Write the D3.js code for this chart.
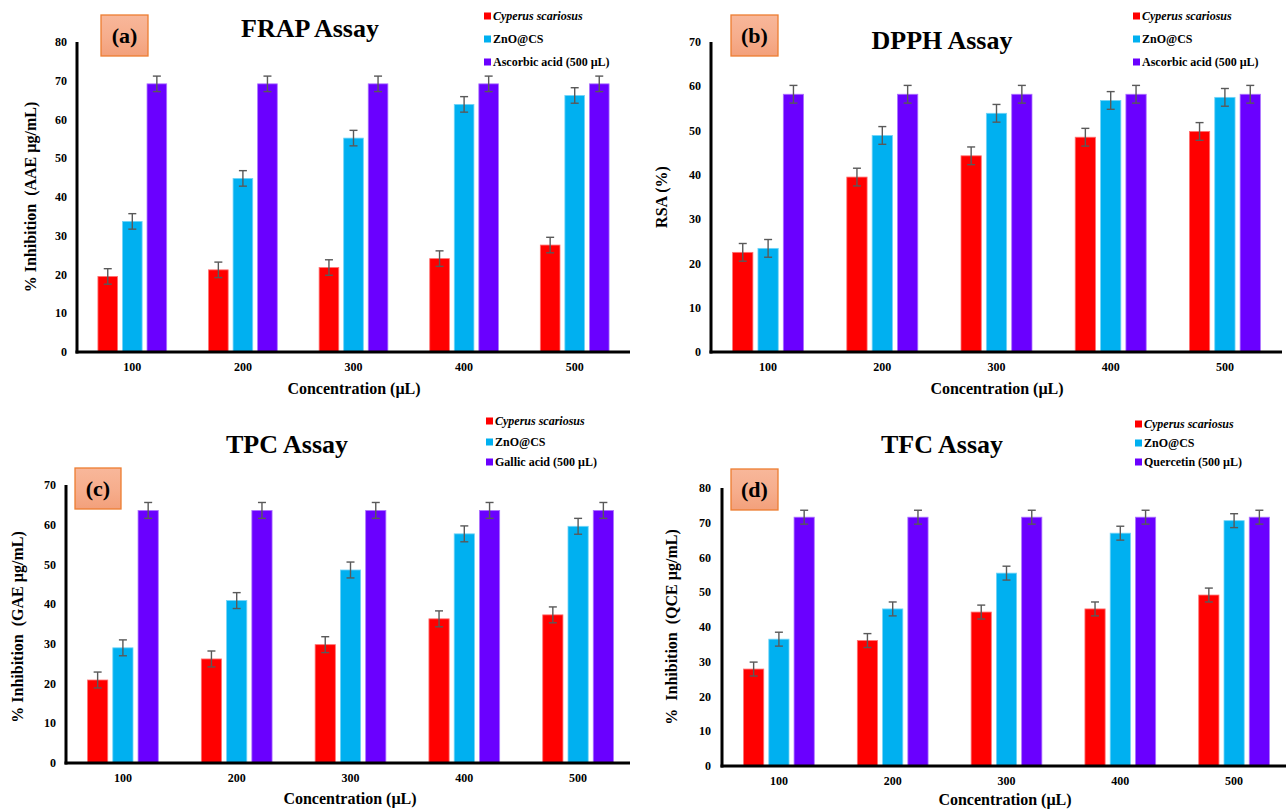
<!DOCTYPE html>
<html>
<head>
<meta charset="utf-8">
<script src="https://cdn.jsdelivr.net/npm/d3@7"></script>
<style>
  html, body { margin: 0; padding: 0; background: #ffffff; }
  svg { display: block; }
  text { font-family: "Liberation Serif", "Times New Roman", serif; font-weight: bold; fill: #000; }
</style>
</head>
<body>
<svg id="chart" width="1286" height="809"></svg>
<script>
// ---------- data ----------
const categories = ["100", "200", "300", "400", "500"];

const frapCyperus  = [19.5, 21.2, 21.8, 24.1, 27.6];
const frapZnO      = [33.7, 44.8, 55.2, 63.9, 66.2];
const frapAscorbic = [69.2, 69.2, 69.2, 69.2, 69.2];
const frapErr      = [2, 2, 2, 2, 2];

const dpphCyperus  = [22.5, 39.5, 44.3, 48.5, 49.8];
const dpphZnO      = [23.4, 48.9, 53.9, 56.8, 57.5];
const dpphAscorbic = [58.2, 58.2, 58.2, 58.2, 58.2];
const dpphErr      = [2, 2, 2, 2, 2];

const tpcCyperus = [20.9, 26.2, 29.8, 36.3, 37.3];
const tpcZnO     = [29.0, 40.9, 48.6, 57.7, 59.6];
const tpcGallic  = [63.6, 63.6, 63.6, 63.6, 63.6];
const tpcErr     = [2, 2, 2, 2, 2];

const tfcCyperus   = [27.9, 36.1, 44.3, 45.2, 49.2];
const tfcZnO       = [36.5, 45.2, 55.5, 67.0, 70.6];
const tfcQuercetin = [71.6, 71.6, 71.6, 71.6, 71.6];
const tfcErr       = [2, 2, 2, 2, 2];

const yTicksA = [0, 10, 20, 30, 40, 50, 60, 70, 80];
const yTicksB = [0, 10, 20, 30, 40, 50, 60, 70];
const yTicksC = [0, 10, 20, 30, 40, 50, 60, 70];
const yTicksD = [0, 10, 20, 30, 40, 50, 60, 70, 80];

const seriesColors = ["#ff0000", "#00b0f0", "#6a00ff"];

// ---------- panels ----------
const panels = [
  { tag: "(a)", title: "FRAP Assay", yLabel: "% Inhibition\u00a0\u00a0(AAE µg/mL)", xLabel: "Concentration (µL)",
    names: ["Cyperus scariosus", "ZnO@CS", "Ascorbic acid (500 µL)"],
    series: [frapCyperus, frapZnO, frapAscorbic], err: frapErr, yTicks: yTicksA,
    g: { x0: 77, x1: 630, lineEnd: 630, yTop: 42, yBase: 352, titleX: 310, titleY: 37,
         box: [101, 15, 47, 41], legX: 484, legY: [16, 39, 62], yLabX: 30, yLabY: 197,
         tickR: 67, xTickY: 367, xTitleX: 354, xTitleY: 388 } },
  { tag: "(b)", title: "DPPH Assay", yLabel: "RSA (%)", xLabel: "Concentration (µL)",
    names: ["Cyperus scariosus", "ZnO@CS", "Ascorbic acid (500 µL)"],
    series: [dpphCyperus, dpphZnO, dpphAscorbic], err: dpphErr, yTicks: yTicksB,
    g: { x0: 711, x1: 1282, lineEnd: 1282, yTop: 42, yBase: 352, titleX: 942, titleY: 49,
         box: [731, 15, 47, 41], legX: 1133, legY: [16, 39, 62], yLabX: 661, yLabY: 197,
         tickR: 701, xTickY: 367, xTitleX: 997, xTitleY: 388 } },
  { tag: "(c)", title: "TPC Assay", yLabel: "% Inhibition\u00a0\u00a0(GAE µg/mL)", xLabel: "Concentration (µL)",
    names: ["Cyperus scariosus", "ZnO@CS", "Gallic acid (500 µL)"],
    series: [tpcCyperus, tpcZnO, tpcGallic], err: tpcErr, yTicks: yTicksC,
    g: { x0: 66, x1: 635, lineEnd: 630, yTop: 485, yBase: 763, titleX: 287, titleY: 453,
         box: [75, 468, 46, 41], legX: 486, legY: [421, 442, 462], yLabX: 17, yLabY: 627,
         tickR: 56, xTickY: 778, xTitleX: 350, xTitleY: 798 } },
  { tag: "(d)", title: "TFC Assay", yLabel: "%\u00a0\u00a0Inhibition\u00a0\u00a0(QCE µg/mL)", xLabel: "Concentration (µL)",
    names: ["Cyperus scariosus", "ZnO@CS", "Quercetin (500 µL)"],
    series: [tfcCyperus, tfcZnO, tfcQuercetin], err: tfcErr, yTicks: yTicksD,
    g: { x0: 722, x1: 1291, lineEnd: 1286, yTop: 488, yBase: 766, titleX: 942, titleY: 453,
         box: [731, 469, 47, 41], legX: 1135, legY: [424, 443, 462], yLabX: 671, yLabY: 627,
         tickR: 711, xTickY: 781, xTitleX: 1005, xTitleY: 799 } }
];

const svg = d3.select("#chart");
const defs = svg.append("defs");
const grad = defs.append("linearGradient").attr("id", "boxGrad")
  .attr("x1", "0").attr("y1", "0").attr("x2", "0").attr("y2", "1");
grad.append("stop").attr("offset", "0%").attr("stop-color", "#f8b79a");
grad.append("stop").attr("offset", "55%").attr("stop-color", "#f6ad8c");
grad.append("stop").attr("offset", "100%").attr("stop-color", "#f3a07b");

panels.forEach(p => {
  const g = p.g;
  const root = svg.append("g");
  const ymax = d3.max(p.yTicks);
  const y = d3.scaleLinear().domain([0, ymax]).range([g.yBase, g.yTop]);
  const x0 = d3.scaleBand().domain(categories).range([g.x0, g.x1]).paddingInner(0).paddingOuter(0);
  const bw = x0.bandwidth();
  const pitch = bw * 0.222;
  const keys = [0, 1, 2];
  const x1 = d3.scaleBand().domain(keys)
    .range([bw / 2 - 1.5 * pitch, bw / 2 + 1.5 * pitch]).paddingInner(0.2).paddingOuter(0.1);

  // bars
  const rows = categories.map((c, i) => ({ cat: c, vals: keys.map(k => ({ k, v: p.series[k][i], e: p.err[i] })) }));
  const grp = root.selectAll("g.grp").data(rows).enter().append("g")
    .attr("transform", d => `translate(${x0(d.cat)},0)`);
  grp.selectAll("rect").data(d => d.vals).enter().append("rect")
    .attr("x", d => x1(d.k))
    .attr("y", d => y(d.v))
    .attr("width", x1.bandwidth())
    .attr("height", d => y(0) - y(d.v))
    .attr("fill", d => seriesColors[d.k])
    .attr("stroke", d => d3.interpolateRgb(seriesColors[d.k], "#ffffff")(0.45))
    .attr("stroke-width", 0.8);
  // error bars
  const eb = grp.selectAll("g.eb").data(d => d.vals).enter().append("g")
    .attr("stroke", "#595959").attr("stroke-width", 1.4);
  eb.append("line")
    .attr("x1", d => x1(d.k) + x1.bandwidth() / 2).attr("x2", d => x1(d.k) + x1.bandwidth() / 2)
    .attr("y1", d => y(d.v + d.e)).attr("y2", d => y(d.v - d.e));
  eb.append("line")
    .attr("x1", d => x1(d.k) + x1.bandwidth() / 2 - 4).attr("x2", d => x1(d.k) + x1.bandwidth() / 2 + 4)
    .attr("y1", d => y(d.v + d.e)).attr("y2", d => y(d.v + d.e));
  eb.append("line")
    .attr("x1", d => x1(d.k) + x1.bandwidth() / 2 - 4).attr("x2", d => x1(d.k) + x1.bandwidth() / 2 + 4)
    .attr("y1", d => y(d.v - d.e)).attr("y2", d => y(d.v - d.e));

  // axes lines
  root.append("line").attr("x1", g.x0).attr("x2", g.x0).attr("y1", y(ymax)).attr("y2", y(0) + 1.5)
    .attr("stroke", "#000").attr("stroke-width", 3);
  root.append("line").attr("x1", g.x0 - 1.5).attr("x2", g.lineEnd).attr("y1", y(0)).attr("y2", y(0))
    .attr("stroke", "#000").attr("stroke-width", 3);

  // y tick labels
  root.selectAll("text.yt").data(p.yTicks).enter().append("text")
    .attr("x", g.tickR).attr("y", d => y(d)).attr("dy", "0.35em")
    .attr("text-anchor", "end").attr("font-size", 12).text(d => d);
  // x tick labels
  root.selectAll("text.xt").data(categories).enter().append("text")
    .attr("x", d => x0(d) + bw / 2).attr("y", g.xTickY).attr("dy", "0.35em")
    .attr("text-anchor", "middle").attr("font-size", 12).text(d => d);

  // axis titles
  root.append("text").attr("x", g.xTitleX).attr("y", g.xTitleY).attr("dy", "0.35em")
    .attr("text-anchor", "middle").attr("font-size", 16).text(p.xLabel);
  root.append("text").attr("transform", `translate(${g.yLabX},${g.yLabY}) rotate(-90)`)
    .attr("dy", "0.35em").attr("text-anchor", "middle").attr("font-size", 16).text(p.yLabel);

  // title
  root.append("text").attr("x", g.titleX).attr("y", g.titleY)
    .attr("text-anchor", "middle").attr("font-size", 26).text(p.title);

  // tag box
  const [bx, by, bwid, bh] = g.box;
  root.append("rect").attr("x", bx).attr("y", by).attr("width", bwid).attr("height", bh)
    .attr("fill", "url(#boxGrad)").attr("stroke", "#ed7d31").attr("stroke-width", 1.3);
  root.append("text").attr("x", bx + bwid / 2).attr("y", by + bh / 2).attr("dy", "0.35em")
    .attr("text-anchor", "middle").attr("font-size", 22).text(p.tag);

  // legend
  p.names.forEach((n, i) => {
    root.append("rect").attr("x", g.legX).attr("y", g.legY[i] - 3.5).attr("width", 7).attr("height", 7)
      .attr("fill", seriesColors[i]);
    root.append("text").attr("x", g.legX + 9).attr("y", g.legY[i]).attr("dy", "0.35em")
      .attr("font-size", 12).attr("font-style", i === 0 ? "italic" : "normal").text(n);
  });
});
</script>
</body>
</html>
